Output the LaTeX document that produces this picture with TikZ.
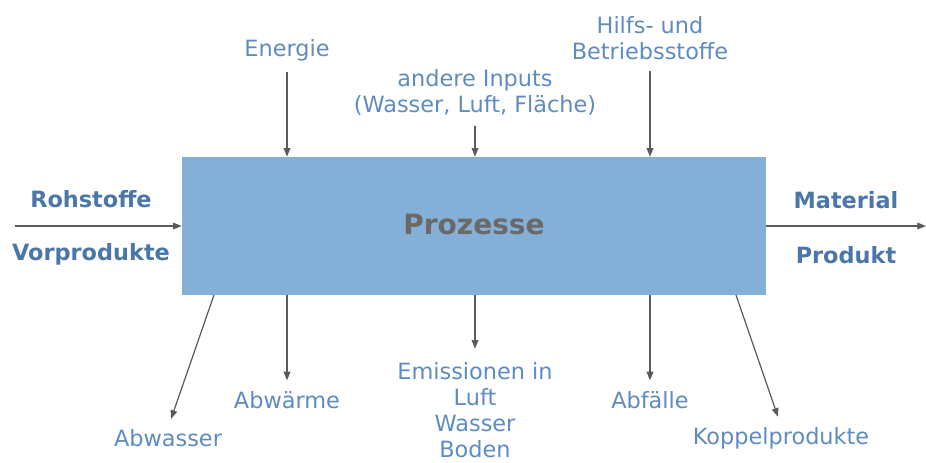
\documentclass[tikz,border=0pt]{standalone}
\usepackage{fontspec}
\setmainfont{DejaVu Sans}
\usetikzlibrary{arrows.meta}
\definecolor{boxblue}{HTML}{84AFD7}
\definecolor{labelblue}{HTML}{5E8CC0}
\definecolor{headblue}{HTML}{4A77A8}
\definecolor{procgray}{HTML}{6B6967}
\definecolor{arrowgray}{HTML}{5A5A5A}

\begin{document}
\begin{tikzpicture}[x=0.75pt, y=-0.75pt, >={Triangle[length=6.5pt,width=5pt]}, proc/.style = {fill=boxblue, minimum width=438pt, minimum height=103.5pt, inner sep=0pt, text=procgray, font=\fontsize{21}{25}\selectfont\bfseries}, lab/.style = {text=labelblue, align=center, inner sep=1pt, font=\fontsize{16.8}{19.5}\selectfont}, head/.style = {text=headblue, inner sep=1pt, font=\fontsize{16.8}{19.5}\selectfont\bfseries}, flow/.style = {->, draw=arrowgray, fill=arrowgray, line width=0.9pt}]
\useasboundingbox (0,0) rectangle (926,462);
\node[proc] (box) at (474,226) {\raisebox{3pt}{Prozesse}};
\node[lab] (energie) at (287,50) {Energie};
\node[lab] (inputs) at (475,92) {andere Inputs\\(Wasser, Luft, Fläche)};
\node[lab] (hilfs) at (650,38) {Hilfs- und\\Betriebsstoffe};
\node[lab] (abwasser) at (168,438) {Abwasser};
\node[lab] (abwaerme) at (287,400) {Abwärme};
\node[lab] (emission) at (475,410) {Emissionen in\\Luft\\Wasser\\Boden};
\node[lab] (abfaelle) at (650,400) {Abfälle};
\node[lab] (koppel) at (781,438) {Koppelprodukte};
\node[head] (rohstoffe) at (91,199) {Rohstoffe};
\node[head] (vorprod) at (91,254) {Vorprodukte};
\node[head] (material) at (846,200) {Material};
\node[head] (produkt) at (846,255) {Produkt};
\coordinate (instart) at (15,226);
\coordinate (outend) at (926,226);
\coordinate (wstart) at (214,295);
\coordinate (kstart) at (736,295);

\draw[flow] (instart) -- (box.west);
\draw[flow] (box.east) -- (outend);
\draw[flow, shorten <=7pt] (energie.south) -- (energie.south |- box.north);
\draw[flow, shorten <=7pt] (inputs.south) -- (inputs.south |- box.north);
\draw[flow, shorten <=7pt] (hilfs.south) -- (hilfs.south |- box.north);
\draw[flow, shorten >=7pt] (wstart) -- (abwasser.north);
\draw[flow, shorten >=7pt] (abwaerme.north |- box.south) -- (abwaerme.north);
\draw[flow, shorten >=9pt] (emission.north |- box.south) -- (emission.north);
\draw[flow, shorten >=7pt] (abfaelle.north |- box.south) -- (abfaelle.north);
\draw[flow, shorten >=7pt] (kstart) -- (koppel.north);
\end{tikzpicture}
\end{document}
